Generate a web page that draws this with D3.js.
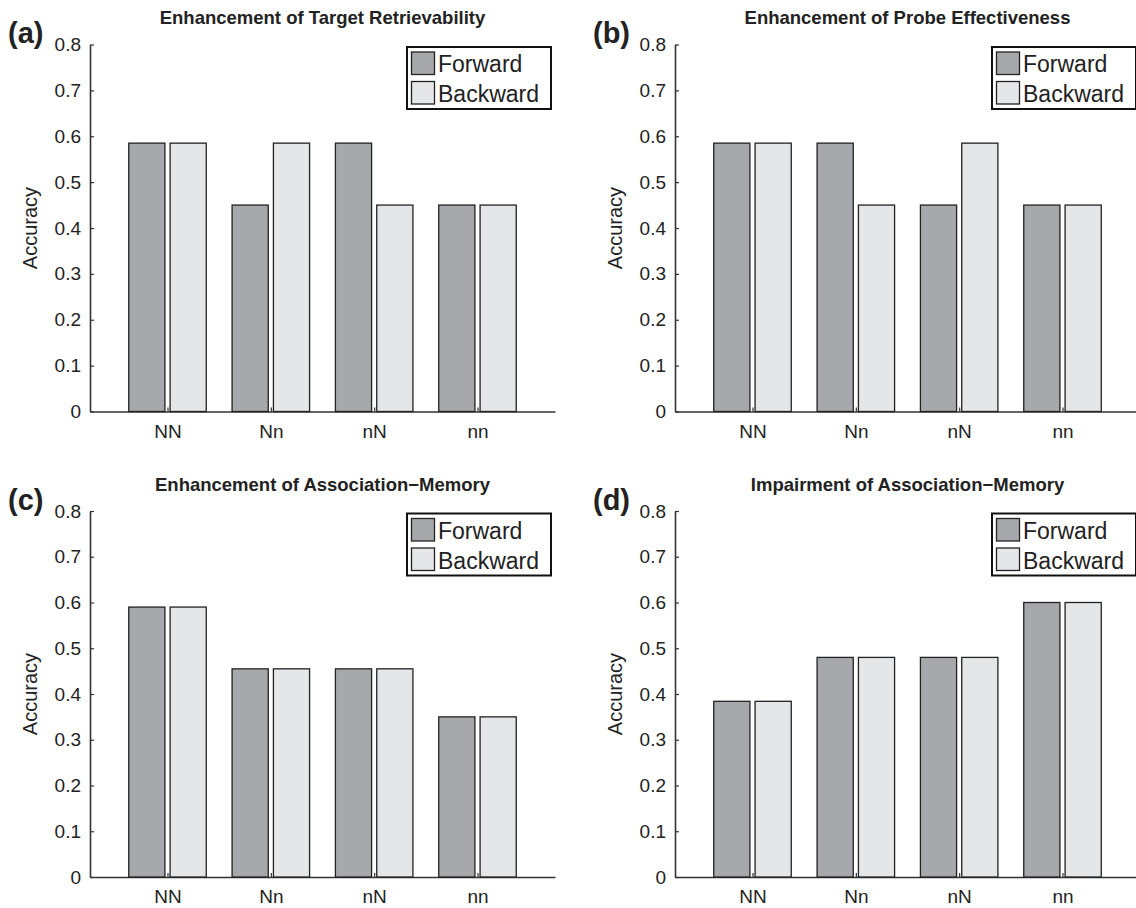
<!DOCTYPE html>
<html>
<head>
<meta charset="utf-8">
<script src="https://cdn.jsdelivr.net/npm/d3@7"></script>
<style>
  html, body { margin: 0; padding: 0; background: #fff; }
  svg { display: block; }
  text { font-family: Arial, "Liberation Sans", Helvetica, sans-serif; fill: #222; }
</style>
</head>
<body>
<svg id="chart" width="1136" height="908"></svg>
<script>
const categories = ["NN", "Nn", "nN", "nn"];
const seriesNames = ["Forward", "Backward"];
const yTicks = [0, 0.1, 0.2, 0.3, 0.4, 0.5, 0.6, 0.7, 0.8];
const panelLabels = ["(a)", "(b)", "(c)", "(d)"];
const titles = [
  "Enhancement of Target Retrievability",
  "Enhancement of Probe Effectiveness",
  "Enhancement of Association\u2212Memory",
  "Impairment of Association\u2212Memory"
];
const forwardA = [0.585, 0.45, 0.585, 0.45];
const backwardA = [0.585, 0.585, 0.45, 0.45];
const forwardB = [0.585, 0.585, 0.45, 0.45];
const backwardB = [0.585, 0.45, 0.585, 0.45];
const forwardC = [0.59, 0.455, 0.455, 0.35];
const backwardC = [0.59, 0.455, 0.455, 0.35];
const forwardD = [0.384, 0.48, 0.48, 0.6];
const backwardD = [0.384, 0.48, 0.48, 0.6];

const panelSeries = [
  [forwardA, backwardA],
  [forwardB, backwardB],
  [forwardC, backwardC],
  [forwardD, backwardD]
];

const colors = ["#a7a8ab", "#e5e6e8"];
const svg = d3.select("#chart");

// panel layout (axis boxes)
const layouts = [
  { left: 90,  right: 555,  top: 44.5, bottom: 411.5 },
  { left: 675, right: 1140, top: 44.5, bottom: 411.5 },
  { left: 90,  right: 555,  top: 511,  bottom: 877 },
  { left: 675, right: 1140, top: 511,  bottom: 877 }
];

layouts.forEach((L, p) => {
  const g = svg.append("g");
  const x = d3.scaleLinear().domain([0.25, 4.75]).range([L.left, L.right]);
  const y = d3.scaleLinear().domain([0, 0.8]).range([L.bottom, L.top]);
  const barW = 0.35, off = 0.2;

  // x axis
  const xAxis = g.append("g")
    .attr("transform", `translate(0,${L.bottom})`)
    .call(d3.axisBottom(x).tickValues([1, 2, 3, 4])
      .tickFormat(d => categories[d - 1])
      .tickSize(-4).tickSizeOuter(0).tickPadding(13));
  // y axis
  const yAxis = g.append("g")
    .attr("transform", `translate(${L.left},0)`)
    .call(d3.axisLeft(y).tickValues(yTicks)
      .tickFormat(d => d === 0 ? "0" : d3.format(".1f")(d))
      .tickSize(-4).tickSizeOuter(0).tickPadding(9));
  [xAxis, yAxis].forEach(a => {
    a.select(".domain").attr("stroke", "#333").attr("stroke-width", 1.6);
    a.selectAll(".tick line").attr("stroke", "#333").attr("stroke-width", 1.2);
    a.selectAll(".tick text").attr("font-size", 19).attr("fill", "#222")
      .attr("font-family", "Arial, 'Liberation Sans', sans-serif");
  });

  // bars
  panelSeries[p].forEach((vals, s) => {
    g.append("g").selectAll("rect")
      .data(vals)
      .join("rect")
      .attr("x", (d, i) => x(i + 1 + (s === 0 ? -off : off) - barW / 2))
      .attr("width", x(barW) - x(0))
      .attr("y", d => y(d))
      .attr("height", d => y(0) - y(d))
      .attr("fill", colors[s])
      .attr("stroke", "#222")
      .attr("stroke-width", 1.3);
  });

  // y label
  g.append("text")
    .attr("transform", `translate(${L.left - 53},${(L.top + L.bottom) / 2}) rotate(-90)`)
    .attr("text-anchor", "middle")
    .attr("font-size", 20)
    .text("Accuracy");

  // title
  g.append("text")
    .attr("x", (L.left + Math.min(L.right, 555 + (L.left - 90))) / 2)
    .attr("y", L.top - 20.5)
    .attr("text-anchor", "middle")
    .attr("font-size", 18.5)
    .attr("font-weight", "bold")
    .text(titles[p]);

  // panel label
  g.append("text")
    .attr("x", L.left - 82)
    .attr("y", L.top - 1.5)
    .attr("font-size", 29)
    .attr("font-weight", "bold")
    .attr("fill", "#333")
    .text(panelLabels[p]);

  // legend
  const lx = L.right - 148, ly = L.top + 2.5;
  const lg = g.append("g");
  lg.append("rect")
    .attr("x", lx).attr("y", ly).attr("width", 144).attr("height", 62)
    .attr("fill", "#fff").attr("stroke", "#111").attr("stroke-width", 2);
  seriesNames.forEach((name, s) => {
    lg.append("rect")
      .attr("x", lx + 4.5).attr("y", ly + 5 + s * 29.5)
      .attr("width", 23).attr("height", 22.5)
      .attr("fill", colors[s]).attr("stroke", "#222").attr("stroke-width", 1.3);
    lg.append("text")
      .attr("x", lx + 31).attr("y", ly + 25 + s * 30)
      .attr("font-size", 23)
      .text(name);
  });
});
</script>
</body>
</html>
